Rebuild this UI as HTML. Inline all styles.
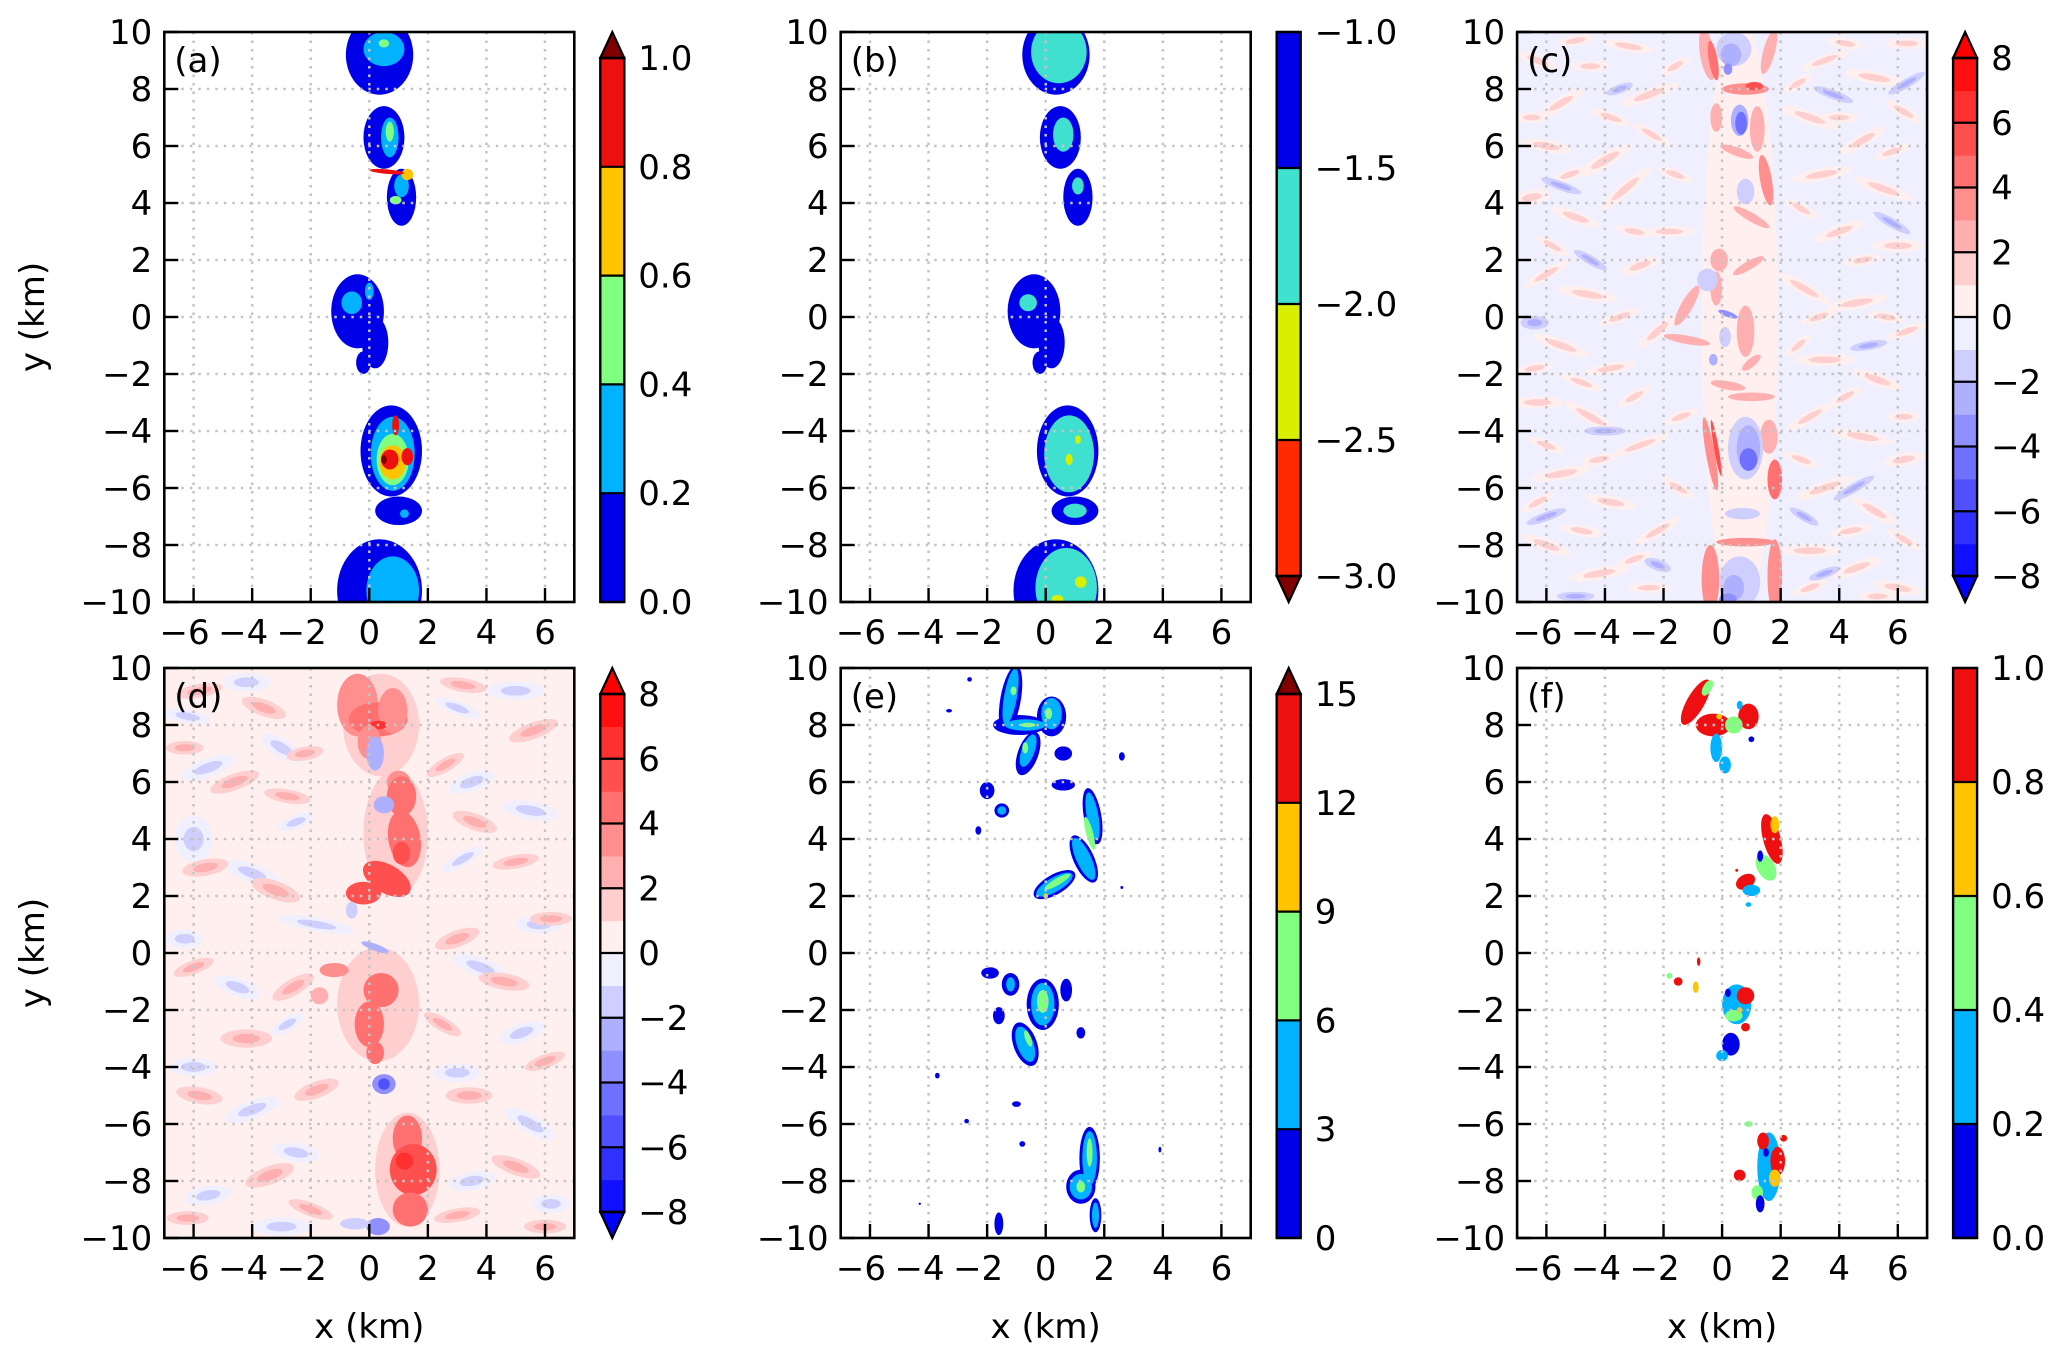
<!DOCTYPE html>
<html><head><meta charset="utf-8"><style>
html,body{margin:0;padding:0;background:#fff;}
svg{display:block;font-family:"DejaVu Sans","Liberation Sans",sans-serif;}
</style></head><body>
<svg id="fig" width="2067" height="1357" viewBox="0 0 2067 1357" xmlns="http://www.w3.org/2000/svg"></svg>
<script>
// ---------- data (km coordinates, level index) : [x, y, rx, ry, rot, level] ----------
const xTicks = [-6,-4,-2,0,2,4,6];
const yTicks = [-10,-8,-6,-4,-2,0,2,4,6,8,10];
const aBlobs = [
 [0.35,9.2,1.15,1.4,0,0],[0.5,9.4,0.7,0.6,0,1],[0.5,9.6,0.18,0.14,0,2],
 [0.5,6.3,0.7,1.1,0,0],[0.7,6.3,0.3,0.7,0,1],[0.7,6.5,0.14,0.35,0,2],
 [1.1,4.2,0.5,1.0,0,0],[1.1,4.6,0.25,0.4,0,1],[0.9,4.1,0.2,0.15,0,2],[1.3,5.0,0.2,0.2,0,3],[0.6,5.1,0.6,0.08,-5,4],
 [-0.4,0.2,0.9,1.3,0,0],[0.2,-0.9,0.45,0.9,0,0],[-0.2,-1.6,0.25,0.4,0,0],[-0.6,0.5,0.35,0.4,0,1],[0.0,0.9,0.15,0.3,0,1],
 [0.75,-4.7,1.05,1.6,0,0],[0.8,-4.8,0.75,1.3,0,1],[0.8,-5.0,0.55,0.9,0,2],[0.8,-5.1,0.45,0.6,0,3],
 [0.7,-5.0,0.3,0.35,0,4],[0.9,-3.8,0.12,0.35,0,4],[1.3,-4.9,0.2,0.3,0,4],[0.5,-5.0,0.1,0.15,0,5],
 [1.0,-6.8,0.8,0.5,0,0],[1.2,-6.9,0.15,0.15,0,1],
 [0.35,-9.6,1.45,1.8,0,0],[0.8,-9.6,0.9,1.2,0,1]
];
const bBlobs = [
 [0.35,9.2,1.15,1.4,0,0],[0.45,9.3,0.95,1.1,0,1],
 [0.5,6.3,0.7,1.1,0,0],[0.6,6.4,0.35,0.6,0,1],
 [1.1,4.2,0.5,1.0,0,0],[1.1,4.6,0.2,0.3,0,1],
 [-0.4,0.2,0.9,1.3,0,0],[0.2,-0.9,0.45,0.9,0,0],[-0.2,-1.6,0.25,0.4,0,0],[-0.6,0.5,0.3,0.3,0,1],
 [0.75,-4.7,1.05,1.6,0,0],[0.8,-4.8,0.85,1.35,0,1],[0.8,-5.0,0.12,0.2,0,2],[1.1,-4.3,0.1,0.15,0,2],
 [1.0,-6.8,0.8,0.5,0,0],[1.0,-6.8,0.4,0.25,0,1],
 [0.35,-9.6,1.45,1.8,0,0],[0.7,-9.5,1.05,1.4,0,1],[1.2,-9.3,0.2,0.2,0,2],[0.4,-9.9,0.2,0.15,0,2]
];
// texture squiggles [x, y, rx, ry, rot]
const cPinkTex = [
 [-6.3,9.0,0.45,0.13,-20],[-5.5,7.5,0.55,0.14,30],[-4.5,8.8,0.4,0.12,0],[-3.2,9.5,0.55,0.12,-10],[-2.5,7.8,0.65,0.14,20],
 [-6.0,6.0,0.55,0.14,-10],[-4.0,5.5,0.65,0.16,30],[-2.4,6.4,0.45,0.12,-30],[-6.5,4.2,0.4,0.16,10],[-5.0,3.5,0.55,0.14,-20],
 [-3.3,4.5,0.7,0.14,40],[-1.8,3.0,0.55,0.12,0],[-6.0,1.5,0.55,0.12,30],[-4.6,0.8,0.65,0.14,-10],[-2.8,1.8,0.45,0.14,20],
 [-5.5,-1.0,0.65,0.14,-20],[-3.8,-1.8,0.55,0.12,10],[-2.2,-0.5,0.55,0.14,40],[-6.3,-3.0,0.55,0.14,0],[-4.5,-3.5,0.65,0.14,-30],
 [-2.8,-4.5,0.65,0.12,20],[-5.5,-5.5,0.65,0.14,10],[-3.8,-6.5,0.55,0.14,-10],[-2.2,-7.5,0.55,0.12,30],[-6.0,-8.0,0.55,0.14,-20],
 [-4.2,-9.0,0.65,0.14,10],[-2.5,-9.5,0.45,0.12,0],
 [3.5,9.0,0.55,0.12,20],[5.2,8.4,0.65,0.14,-10],[6.3,9.6,0.45,0.12,0],[3.0,7.0,0.65,0.14,-20],[4.8,6.2,0.55,0.14,30],
 [6.2,7.2,0.45,0.12,-30],[3.4,5.0,0.65,0.14,10],[5.5,4.5,0.65,0.14,-20],[4.0,3.0,0.55,0.14,20],[6.0,2.5,0.55,0.14,0],
 [2.8,1.0,0.65,0.14,-30],[4.6,0.5,0.65,0.14,10],[6.3,-0.5,0.45,0.12,20],[3.5,-1.5,0.65,0.14,0],[5.3,-2.2,0.55,0.14,-20],
 [3.0,-3.5,0.55,0.12,30],[4.8,-4.2,0.65,0.14,-10],[6.2,-5.0,0.45,0.14,10],[3.5,-6.0,0.65,0.14,20],[5.2,-6.8,0.55,0.14,-30],
 [3.0,-8.2,0.65,0.14,0],[4.6,-8.8,0.55,0.14,20],[6.0,-9.5,0.55,0.14,-10],
 [-5.0,9.7,0.4,0.12,10],[-3.8,7.0,0.45,0.12,-20],[-5.2,5.0,0.4,0.12,20],[-6.5,7.0,0.35,0.12,0],[-3.0,3.0,0.4,0.12,-10],
 [-5.8,2.5,0.4,0.12,-30],[-3.5,0.0,0.45,0.12,20],[-6.4,-1.8,0.4,0.12,10],[-4.8,-2.3,0.45,0.12,-20],[-3.0,-2.8,0.4,0.12,30],
 [-6.0,-4.5,0.4,0.12,-20],[-4.2,-5.0,0.4,0.12,10],[-6.3,-6.5,0.4,0.12,30],[-4.8,-7.5,0.45,0.12,-10],[-3.0,-8.5,0.4,0.12,20],
 [4.2,9.6,0.4,0.12,-10],[2.6,8.2,0.35,0.12,30],[4.0,7.0,0.4,0.12,0],[5.8,5.8,0.4,0.12,20],[2.7,3.8,0.4,0.12,-30],
 [4.8,2.0,0.4,0.12,10],[3.3,0.0,0.4,0.12,20],[5.6,0.0,0.4,0.12,-10],[4.2,-2.8,0.4,0.12,30],[6.2,-3.5,0.35,0.12,0],
 [2.7,-5.0,0.4,0.12,-20],[4.4,-7.5,0.45,0.12,10],[6.2,-7.8,0.4,0.12,-30],[3.0,-9.5,0.4,0.12,20],[5.3,-9.8,0.4,0.12,0],
 [-1.6,8.8,0.35,0.12,30],[-1.6,5.0,0.4,0.12,-20],[-1.4,-3.5,0.4,0.12,20],[-1.5,-6.0,0.4,0.12,-30],[2.6,-1.0,0.35,0.12,40]
];
const cBlueTex = [
 [-5.5,4.6,0.45,0.1,-20],[4.5,-6.0,0.5,0.1,30],[-4.0,-4.0,0.45,0.1,0],[5.8,3.3,0.45,0.1,-30],[-6.0,-7.0,0.45,0.1,20],
 [3.8,7.8,0.45,0.1,-20],[-6.4,-0.2,0.3,0.15,0],[-3.5,8.0,0.3,0.1,20],[-4.5,2.0,0.4,0.1,-30],[5.0,-1.0,0.4,0.1,10],
 [6.3,8.2,0.45,0.1,30],[-2.2,-8.7,0.3,0.12,-20],[3.5,-9.0,0.35,0.1,20],[-5.0,-9.8,0.4,0.1,0],[2.8,-7.0,0.35,0.1,-30]
];
const cBlobs = [
 [0.6,0,1.3,10.5,0,0],
 [-0.5,9.2,0.25,0.9,10,2],[-0.3,9.0,0.15,0.7,10,4],[1.6,9.3,0.2,0.8,-15,2],[0.8,8.0,0.8,0.2,0,3],[1.1,8.1,0.3,0.15,0,5],
 [0.4,9.4,0.6,0.6,0,-2],[0.3,9.2,0.35,0.4,0,-3],[0.2,8.7,0.15,0.2,0,-4],
 [-0.2,7.0,0.2,0.5,0,2],[1.2,6.6,0.25,0.8,0,2],[0.5,5.8,0.6,0.15,-20,2],[0.6,6.9,0.3,0.55,0,-3],[0.65,6.8,0.2,0.4,0,-5],
 [1.5,4.8,0.2,0.9,10,3],[0.8,4.4,0.3,0.45,0,-2],[1.0,3.5,0.7,0.15,-30,2],
 [-0.1,2.0,0.3,0.4,0,2],[0.9,1.8,0.6,0.15,30,2],[-0.2,1.0,0.2,0.6,0,2],
 [-0.5,1.3,0.35,0.4,0,-2],[0.2,0.1,0.35,0.1,-20,-4],[0.1,-0.7,0.2,0.35,0,-2],[-0.3,-1.5,0.15,0.2,0,-3],
 [-1.2,0.4,0.2,0.8,-30,2],[-1.2,-0.8,0.8,0.15,-10,2],[0.8,-0.5,0.3,0.9,0,2],[0.2,-2.4,0.6,0.15,-10,2],[1.0,-1.6,0.4,0.15,40,2],
 [1.0,-2.8,0.8,0.15,0,2],[1.6,-4.2,0.3,0.6,0,2],[1.8,-5.7,0.25,0.7,0,4],
 [0.8,-4.6,0.6,1.1,0,-2],[0.9,-4.6,0.4,0.8,0,-3],[0.9,-5.0,0.3,0.4,0,-5],
 [-0.4,-4.8,0.15,1.3,10,3],[-0.2,-4.6,0.08,1.0,10,5],
 [0.7,-6.9,0.6,0.2,0,-2],
 [-0.4,-9.2,0.3,1.2,0,3],[1.8,-9.1,0.25,1.3,0,3],[0.8,-7.9,1.0,0.15,0,3],[0.6,-9.3,0.7,0.9,0,-2],[0.4,-9.5,0.35,0.45,0,-3],[0.2,-9.9,0.3,0.2,0,-4]
];
const dPinkTex = [
 [-5.8,9.2,0.5,0.15,10],[-3.6,8.6,0.5,0.18,-20],[-6.3,7.2,0.4,0.15,0],[-4.6,6.0,0.55,0.18,20],[-2.8,5.5,0.5,0.15,-10],
 [-5.6,3.0,0.5,0.18,10],[-3.2,2.2,0.55,0.2,-20],[-6.0,-0.5,0.45,0.15,20],[-4.2,-3.0,0.55,0.2,0],[-2.6,-1.2,0.5,0.18,30],
 [-5.8,-5.0,0.5,0.18,-10],[-3.4,-7.8,0.55,0.2,20],[-6.2,-9.3,0.45,0.15,0],[-2.0,-9.0,0.5,0.15,-20],[-2.2,7.0,0.4,0.15,10],
 [3.2,9.4,0.5,0.15,-10],[5.6,7.8,0.55,0.18,20],[3.6,4.6,0.5,0.18,-20],[5.0,3.2,0.5,0.15,10],[6.2,1.2,0.45,0.15,0],
 [3.0,0.5,0.5,0.18,20],[4.6,-1.0,0.55,0.18,-10],[6.0,-3.8,0.45,0.15,20],[3.4,-5.0,0.5,0.18,0],[5.0,-7.5,0.55,0.18,-20],
 [3.0,-9.2,0.5,0.15,10],[6.0,-9.6,0.45,0.15,0],[2.6,6.6,0.45,0.15,30],[2.5,-2.5,0.45,0.15,-30],[-1.8,-4.8,0.5,0.18,20]
];
const dBlueTex = [
 [-6.2,8.3,0.5,0.15,-10],[-4.2,9.5,0.5,0.2,0],[-5.5,6.5,0.6,0.2,20],[-3.0,7.2,0.5,0.2,-30],[-6.0,4.0,0.4,0.5,0],
 [-4.0,2.8,0.6,0.2,-20],[-2.5,4.6,0.4,0.15,20],[-6.3,0.5,0.4,0.2,0],[-4.5,-1.2,0.5,0.2,-20],[-2.8,-2.5,0.4,0.15,30],
 [-6.0,-4.0,0.5,0.2,0],[-4.0,-5.5,0.6,0.2,20],[-2.5,-7.0,0.5,0.2,-10],[-5.5,-8.5,0.5,0.2,10],[-3.0,-9.6,0.6,0.2,0],
 [3.0,8.6,0.5,0.15,-20],[5.0,9.2,0.6,0.2,0],[3.5,6.0,0.5,0.2,20],[5.5,5.0,0.6,0.2,-10],[3.2,3.3,0.5,0.15,30],
 [5.8,1.0,0.5,0.2,0],[3.8,-0.5,0.6,0.2,-20],[5.2,-2.8,0.5,0.2,20],[3.0,-4.2,0.5,0.2,0],[5.5,-6.0,0.6,0.2,-30],
 [3.5,-8.0,0.5,0.2,10],[6.2,-8.8,0.4,0.2,0],[-1.8,1.0,0.8,0.15,-10]
];
const dBlobs = [
 [0.4,8.0,1.3,1.8,0,1],[0.9,4.2,1.1,2.2,0,1],[0.3,-1.8,1.4,2.0,0,1],[1.3,-7.6,1.1,2.0,0,1],
 [-0.4,8.7,0.7,1.1,0,3],[0.3,8.2,1.0,0.6,0,4],[0.8,8.5,0.5,0.8,0,3],[0.3,8.0,0.3,0.15,0,6],[0.0,7.4,0.4,0.6,0,3],
 [1.0,6.0,0.4,0.4,0,3],[1.1,5.5,0.5,0.7,0,4],[1.2,4.0,0.55,1.0,10,4],[0.6,2.6,0.9,0.5,-30,5],[-0.2,2.1,0.6,0.4,0,5],[1.1,3.5,0.3,0.4,0,5],
 [0.2,7.0,0.3,0.6,0,-3],[0.5,5.2,0.35,0.3,0,-3],[-0.6,1.5,0.2,0.3,0,-2],
 [-1.2,-0.6,0.5,0.25,0,3],[0.4,-1.3,0.6,0.6,0,4],[0.0,-2.5,0.5,0.8,0,4],[0.2,-3.5,0.3,0.4,0,4],[-1.7,-1.5,0.3,0.3,0,2],
 [0.5,-4.6,0.4,0.35,0,-4],[0.5,-4.6,0.2,0.2,0,-6],[0.2,0.2,0.5,0.12,-20,-3],
 [1.3,-6.5,0.5,0.8,0,4],[1.5,-7.6,0.8,0.9,0,5],[1.4,-9.0,0.6,0.6,0,4],[1.2,-7.3,0.3,0.3,0,6],
 [0.3,-9.6,0.4,0.3,0,-4],[-0.5,-9.5,0.5,0.2,0,-2]
];
const eBlobs = [
 [-1.2,8.9,0.35,1.2,-10,0],[-0.9,8.0,0.9,0.35,0,0],[0.2,8.3,0.5,0.7,0,0],[-0.6,7.0,0.35,0.8,-20,0],[0.6,7.0,0.3,0.25,0,0],
 [-1.2,9.0,0.22,1.0,-10,1],[-0.7,8.0,0.7,0.2,0,1],[0.2,8.4,0.35,0.55,0,1],[-0.6,7.1,0.22,0.6,-20,1],
 [-1.1,9.2,0.1,0.15,0,2],[0.1,8.4,0.12,0.2,0,2],[-0.7,7.2,0.1,0.2,0,2],[-0.6,8.0,0.25,0.08,0,2],
 [-2.0,5.7,0.25,0.3,0,0],[-1.5,5.0,0.25,0.25,0,0],[-1.5,5.0,0.15,0.15,0,1],[-2.3,4.3,0.1,0.15,0,0],
 [0.6,5.9,0.4,0.2,0,0],[1.6,4.8,0.3,1.0,10,0],[1.3,3.3,0.35,0.9,25,0],[0.3,2.4,0.8,0.35,30,0],
 [1.6,4.8,0.2,0.85,10,1],[1.3,3.3,0.25,0.8,25,1],[0.3,2.4,0.7,0.25,30,1],
 [1.5,4.2,0.12,0.6,15,2],[0.4,2.5,0.5,0.12,30,2],[0.0,2.0,0.08,0.1,0,3],
 [-1.9,-0.7,0.3,0.2,0,0],[-1.2,-1.1,0.3,0.4,0,0],[-1.6,-2.2,0.2,0.3,0,0],[-0.1,-1.8,0.55,0.9,0,0],[-0.7,-3.2,0.4,0.8,20,0],[0.7,-1.3,0.2,0.4,0,0],
 [-0.1,-1.8,0.4,0.75,0,1],[-0.7,-3.2,0.28,0.65,20,1],[-1.2,-1.1,0.15,0.25,0,1],[-0.1,-1.7,0.2,0.4,0,2],[-0.6,-3.0,0.1,0.3,20,2],
 [1.2,-2.8,0.15,0.2,0,0],
 [1.5,-7.2,0.35,1.1,0,0],[1.2,-8.2,0.5,0.6,0,0],[1.7,-9.2,0.2,0.6,0,0],[-1.0,-5.3,0.15,0.1,0,0],[-1.6,-9.5,0.15,0.4,0,0],
 [1.5,-7.2,0.25,0.95,0,1],[1.2,-8.2,0.38,0.45,0,1],[1.7,-9.2,0.12,0.45,0,1],[1.5,-7.0,0.1,0.5,0,2],[1.2,-8.2,0.15,0.2,0,2],
 [-2.6,9.6,0.08,0.08,0,0],[-3.3,8.5,0.1,0.06,0,0],[2.6,6.9,0.1,0.15,0,0],[2.6,2.3,0.05,0.05,0,0],[-3.7,-4.3,0.08,0.1,0,0],
 [3.9,-6.9,0.05,0.1,0,0],[-2.7,-5.9,0.08,0.08,0,0],[-4.3,-8.8,0.04,0.04,0,0],[-0.8,-6.7,0.1,0.1,0,0]
];
const fBlobs = [
 [-0.9,8.8,0.3,0.9,-30,4],[-0.3,8.0,0.6,0.4,0,4],[0.9,8.3,0.35,0.45,0,4],[0.4,8.0,0.3,0.3,0,2],[-0.2,7.2,0.2,0.5,0,1],
 [-0.5,9.3,0.15,0.3,-30,2],[0.1,6.6,0.2,0.3,0,1],[1.0,7.5,0.1,0.1,0,0],[0.6,8.7,0.1,0.15,0,1],[-0.1,8.3,0.1,0.1,0,3],
 [1.7,4.0,0.3,0.9,15,4],[1.5,3.0,0.3,0.5,30,2],[0.8,2.5,0.35,0.25,30,4],[1.0,2.2,0.3,0.2,0,1],[1.8,4.5,0.15,0.3,0,3],
 [1.3,3.4,0.1,0.2,0,0],[0.5,2.9,0.05,0.05,0,4],[0.9,1.7,0.1,0.08,0,1],
 [-1.5,-1.0,0.15,0.15,0,4],[-0.9,-1.2,0.1,0.2,0,3],[-0.8,-0.3,0.06,0.15,0,4],[-1.8,-0.8,0.1,0.1,0,2],
 [0.5,-1.8,0.5,0.7,0,1],[0.8,-1.5,0.3,0.3,0,4],[0.4,-2.2,0.3,0.2,0,2],[0.3,-3.2,0.3,0.4,0,0],[0.0,-3.6,0.2,0.2,0,1],
 [0.8,-2.6,0.15,0.15,0,4],[0.2,-1.4,0.1,0.15,0,0],[0.6,-2.0,0.1,0.1,0,3],
 [1.6,-7.5,0.4,1.2,0,1],[1.9,-7.3,0.25,0.5,0,4],[0.6,-7.8,0.2,0.2,0,4],[1.4,-6.6,0.2,0.3,0,4],[1.2,-8.4,0.2,0.25,0,2],
 [1.3,-8.8,0.15,0.3,0,0],[1.8,-7.9,0.2,0.3,0,3],[0.9,-6.0,0.15,0.1,0,2],[1.5,-7.0,0.1,0.15,0,0],[2.1,-6.5,0.12,0.12,0,4]
];
// colour levels per panel
const aLevels = ["0.0","0.2","0.4","0.6","0.8","1.0"];
const bLevels = ["\u22123.0","\u22122.5","\u22122.0","\u22121.5","\u22121.0"];
const cdLevels = ["\u22128","\u22126","\u22124","\u22122","0","2","4","6","8"];
const eLevels = ["0","3","6","9","12","15"];
const fLevels = ["0.0","0.2","0.4","0.6","0.8","1.0"];

// ---------- drawing ----------
const NS="http://www.w3.org/2000/svg";
const svg=document.getElementById('fig');
function mk(tag,attrs,parent){const e=document.createElementNS(NS,tag);for(const k in attrs)e.setAttribute(k,attrs[k]);(parent||svg).appendChild(e);return e;}
const W=410,H=570;
const jet5=["#0000e8","#00b2ff","#80ff80","#ffc400","#ee1010","#800000"];
const bCols=["#0000e8","#40e0d0","#d8f000","#ff2a00"];
function bwr(v){
  if(v<-8) return "#0000ff"; if(v>7) return "#ff0000";
  const n=(v+8+0.5)/16; let r,g,b;
  if(n<0.5){r=g=Math.round(255*n*2);b=255;} else {r=255;g=b=Math.round(255*2*(1-n));}
  return `rgb(${r},${g},${b})`;
}
const panels=[
 {id:"a",L:164.3,T:32,blobs:aBlobs,bg:null,col:l=>jet5[l],cb:"a"},
 {id:"b",L:840.7,T:32,blobs:bBlobs,bg:null,col:l=>bCols[l],cb:"b"},
 {id:"c",L:1517.1,T:32,blobs:cBlobs,bg:bwr(-1),col:l=>bwr(l),cb:"cd",tex:[[cPinkTex,0,1],[cBlueTex,-2,-3]]},
 {id:"d",L:164.3,T:668,blobs:dBlobs,bg:bwr(0),col:l=>bwr(l),cb:"cd",tex:[[dBlueTex,-1,-2],[dPinkTex,1,2]]},
 {id:"e",L:840.7,T:668,blobs:eBlobs,bg:null,col:l=>jet5[l],cb:"e"},
 {id:"f",L:1517.1,T:668,blobs:fBlobs,bg:null,col:l=>jet5[l],cb:"f"}
];
const FS=34;
panels.forEach((p,pi)=>{
  const sx=x=>p.L+(x+7)/14*W, sy=y=>p.T+(10-y)/20*H;
  const g=mk('g',{});
  
  
  const cp=mk('clipPath',{id:'clip'+p.id},g);
  mk('rect',{x:p.L,y:p.T,width:W,height:H},cp);
  const field=mk('g',{'clip-path':`url(#clip${p.id})`},g);
  
  
  if(p.bg){const bgr=mk('rect',{x:p.L,y:p.T,width:W,height:H,fill:p.bg},field);
    
    }
  function ell(b,lvl,scale){
    const cx=sx(b[0]),cy=sy(b[1]),rx=b[2]*W/14*scale,ry=b[3]*H/20*scale;
    const el=mk('ellipse',{cx:cx,cy:cy,rx:rx,ry:ry,fill:p.col(lvl),transform:`rotate(${-b[4]} ${cx} ${cy})`},field);
    
    
  }
  if(p.tex){
    p.tex.forEach(t=>{
      t[0].forEach(b=>ell(b,t[1],1.6));
      t[0].forEach(b=>ell(b,t[2],0.85));
    });
  }
  p.blobs.forEach(b=>ell(b,b[5],1));
  xTicks.forEach(t=>{const l=mk('line',{x1:sx(t),x2:sx(t),y1:p.T,y2:p.T+H,stroke:"#c4c4c4","stroke-width":2.5,"stroke-dasharray":"2.5 6"},g);
    });
  yTicks.slice(1,-1).forEach(t=>{const l=mk('line',{x1:p.L,x2:p.L+W,y1:sy(t),y2:sy(t),stroke:"#c4c4c4","stroke-width":2.5,"stroke-dasharray":"2.5 6"},g);
    });
  const fr=mk('rect',{x:p.L,y:p.T,width:W,height:H,fill:"none",stroke:"#000","stroke-width":2.6},g);
  
  xTicks.forEach(t=>{
    const l=mk('line',{x1:sx(t),x2:sx(t),y1:p.T+H,y2:p.T+H-14,stroke:"#000","stroke-width":2.4},g);
    
    const tx=mk('text',{x:sx(t)-(t<0?9:0),y:p.T+H+42,"font-size":FS,"text-anchor":"middle"},g);
    tx.textContent=(t<0?"\u2212"+(-t):""+t);
    
  });
  yTicks.forEach(t=>{
    const l=mk('line',{x1:p.L,x2:p.L+14,y1:sy(t),y2:sy(t),stroke:"#000","stroke-width":2.4},g);
    
    const tx=mk('text',{x:p.L-12,y:sy(t)+12,"font-size":FS,"text-anchor":"end"},g);
    tx.textContent=(t<0?"\u2212"+(-t):""+t);
    
  });
  const pl=mk('text',{x:p.L+10,y:p.T+40,"font-size":FS},g);
  pl.textContent="("+p.id+")";
  
  if(pi%3===0){
    const yl=mk('text',{x:0,y:0,"font-size":FS,"text-anchor":"middle",transform:`translate(44 ${p.T+H/2}) rotate(-90)`},g);
    yl.textContent="y (km)";
    
  }
  if(pi>=3){
    const xl=mk('text',{x:p.L+W/2,y:p.T+H+100,"font-size":FS,"text-anchor":"middle"},g);
    xl.textContent="x (km)";
    
  }
  const cb=mk('g',{},g);
  
  
  const cx0=p.L+436, cw=24, tri=26;
  let labels,cols,over=null,under=null;
  if(p.cb==="a"||p.cb==="f"){labels=p.cb==="a"?aLevels:fLevels;cols=jet5.slice(0,5);if(p.cb==="a")over=jet5[5];}
  else if(p.cb==="e"){labels=eLevels;cols=jet5.slice(0,5);over=jet5[5];}
  else if(p.cb==="b"){labels=bLevels;cols=bCols.slice().reverse();under="#800000";}
  else {labels=cdLevels;cols=[];for(let v=-8;v<8;v++)cols.push(bwr(v));over=bwr(8);under=bwr(-9);}
  const top=p.T+(over?tri:0), bot=p.T+H-(under?tri:0), hh=bot-top;
  const n=cols.length;
  cols.forEach((c,i)=>{
    const y0=bot-(i+1)*hh/n;
    const r=mk('rect',{x:cx0,y:y0,width:cw,height:hh/n+0.6,fill:c},cb);
    
  });
  if(over){const t=mk('polygon',{points:`${cx0},${top} ${cx0+cw/2},${p.T} ${cx0+cw},${top}`,fill:over,stroke:"#000","stroke-width":2.2},cb);
    }
  if(under){const t=mk('polygon',{points:`${cx0},${bot} ${cx0+cw/2},${p.T+H} ${cx0+cw},${bot}`,fill:under,stroke:"#000","stroke-width":2.2},cb);
    }
  labels.forEach((lab,i)=>{
    const y=bot-i*hh/(labels.length-1);
    const l=mk('line',{x1:cx0,x2:cx0+cw,y1:y,y2:y,stroke:"#000","stroke-width":2.2},cb);
    
    const tx=mk('text',{x:cx0+cw+14,y:y+12,"font-size":FS},cb);
    tx.textContent=lab;
    
  });
  const o=mk('rect',{x:cx0,y:top,width:cw,height:hh,fill:"none",stroke:"#000","stroke-width":2.4},cb);
  
});
</script>
</body></html>
